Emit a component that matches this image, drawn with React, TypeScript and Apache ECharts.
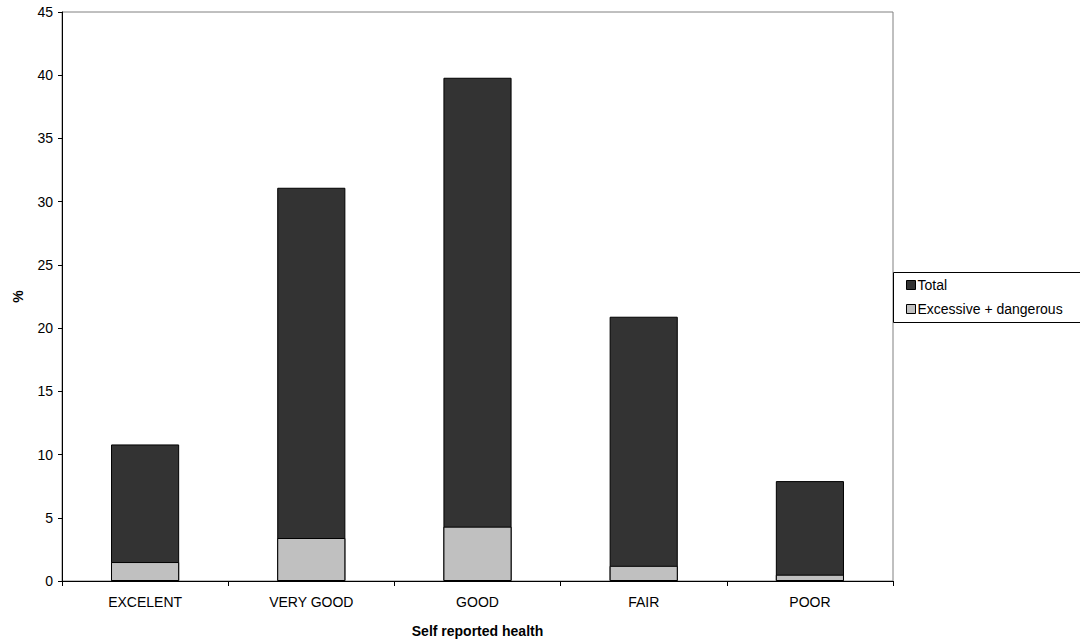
import React, { useEffect, useRef } from "react";
import * as echarts from "echarts";

const categories = ["EXCELENT", "VERY GOOD", "GOOD", "FAIR", "POOR"];
const totalValues = [10.8, 31.1, 39.8, 20.9, 7.9];
const excessiveValues = [1.5, 3.4, 4.3, 1.2, 0.5];
const seriesNames = ["Total", "Excessive + dangerous"];

export default function App() {
  const ref = useRef<HTMLDivElement>(null);
  useEffect(() => {
    if (!ref.current) return;
    const chart = echarts.init(ref.current, undefined, { renderer: "svg" });
    const font = "Liberation Sans, Arial, sans-serif";
    chart.setOption({
      animation: false,
      backgroundColor: "#ffffff",
      textStyle: { fontFamily: font },
      grid: {
        left: 62,
        right: 187,
        top: 12,
        bottom: 59,
        outerBoundsMode: "none",
        containLabel: false,
        show: true,
        borderColor: "#808080",
        borderWidth: 1,
        backgroundColor: "transparent",
      },
      graphic: [
        {
          type: "rect",
          shape: { x: 893.5, y: 272.5, width: 200, height: 50 },
          style: { fill: "#ffffff", stroke: "#000000", lineWidth: 1 },
          z: 1,
        },
      ],
      legend: {
        orient: "vertical",
        left: 906,
        top: 278,
        itemWidth: 9,
        itemHeight: 9,
        itemGap: 10,
        padding: 0,
        z: 10,
        icon: "rect",
        textStyle: { fontFamily: font, fontSize: 14, color: "#000", padding: [0, 0, 0, -3] },
        data: seriesNames.map((n) => ({ name: n, itemStyle: { borderColor: "#000", borderWidth: 1 } })),
      },
      xAxis: {
        type: "category",
        data: categories,
        name: "Self reported health",
        nameLocation: "middle",
        nameGap: 43,
        nameTextStyle: { fontFamily: font, fontSize: 14, fontWeight: "bold", color: "#000" },
        axisLine: { lineStyle: { color: "#000", width: 1 } },
        axisTick: { show: true, alignWithLabel: false, length: 5, lineStyle: { color: "#000" } },
        axisLabel: { fontFamily: font, fontSize: 14, color: "#000", margin: 14 },
        splitLine: { show: false },
      },
      yAxis: {
        type: "value",
        min: 0,
        max: 45,
        interval: 5,
        name: "%",
        nameLocation: "middle",
        nameGap: 37,
        nameRotate: 90,
        nameTextStyle: { fontFamily: font, fontSize: 14, fontWeight: "bold", color: "#000" },
        axisLine: { show: true, lineStyle: { color: "#000", width: 1 } },
        axisTick: { show: true, length: 4, lineStyle: { color: "#000" } },
        axisLabel: { fontFamily: font, fontSize: 14, color: "#000", margin: 9 },
        splitLine: { show: false },
      },
      series: [
        {
          name: seriesNames[0],
          type: "bar",
          data: totalValues,
          barWidth: "41%",
          barGap: "-100%",
          itemStyle: { color: "#333333", borderColor: "#000", borderWidth: 1 },
        },
        {
          name: seriesNames[1],
          type: "bar",
          data: excessiveValues,
          barWidth: "41%",
          barGap: "-100%",
          itemStyle: { color: "#c0c0c0", borderColor: "#000", borderWidth: 1 },
        },
      ],
    });
    return () => chart.dispose();
  }, []);
  return (
    <div
      ref={ref}
      style={{ position: "fixed", left: 0, top: 0, width: 1080, height: 640, background: "#fff" }}
    />
  );
}
